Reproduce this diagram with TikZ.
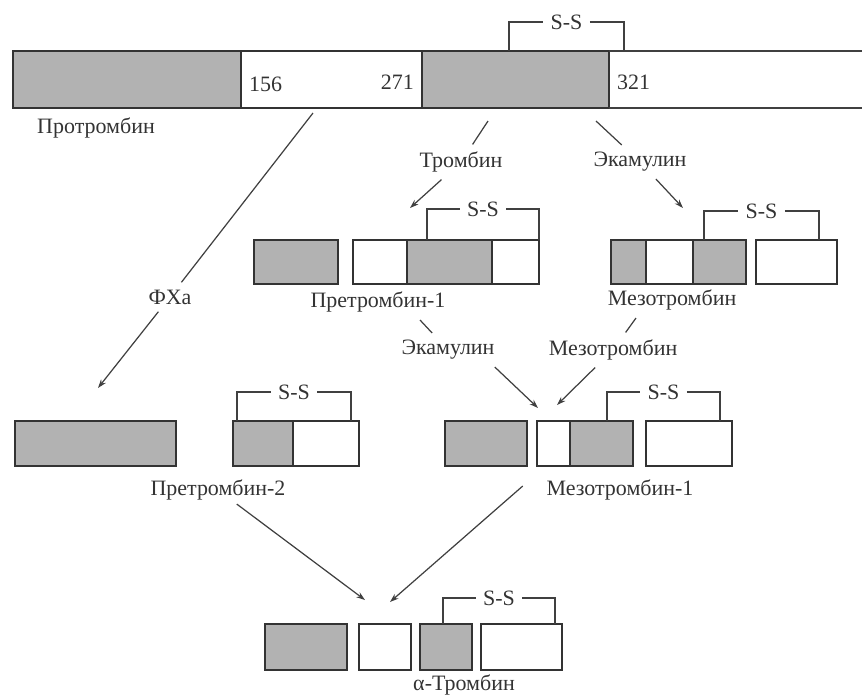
\documentclass[tikz,border=0pt]{standalone}
\usepackage{fontspec}
\setmainfont{Liberation Serif}
\usetikzlibrary{arrows.meta}

\begin{document}
\begin{tikzpicture}[
  x=0.02cm, y=-0.02cm,
  font=\fontsize{12.5}{15}\selectfont,
  >={Stealth[length=5pt,width=3.4pt]},
  every node/.style={text=black!80},
  link/.style={line width=0.7pt, draw=black!75},
  flow/.style={->, line width=0.7pt, draw=black!75},
  shadedseg/.style={line width=0.8pt, draw=black!80, fill=black!30},
  blankseg/.style={line width=0.8pt, draw=black!80, fill=white},
  bond/.style={inner sep=4pt},
  protein/.style={inner sep=2pt},
  enzyme/.style={inner sep=4pt}
]
\useasboundingbox (0,0) rectangle (862,694);

% Prothrombin, open to the right.
\draw[shadedseg] (13,51) rectangle (241,108);
\draw[blankseg] (241,51) rectangle (422,108);
\draw[shadedseg] (422,51) rectangle (609,108);
\draw[link, line width=0.8pt] (862,51) -- (609,51) (609,108) -- (862,108);
\node[anchor=west] (n156) at (243,84) {156};
\node[anchor=east] (n271) at (420,82) {271};
\node[anchor=west] (n321) at (611,82) {321};
\node[protein] (prot) at (96,128) {Протромбин};

% Prethrombin-1 and meizothrombin.
\draw[shadedseg] (254,240) rectangle (338,284);
\draw[blankseg] (353,240) rectangle (407,284);
\draw[shadedseg] (407,240) rectangle (492,284);
\draw[blankseg] (492,240) rectangle (539,284);
\node[protein] (pre1) at (378,302) {Претромбин-1};

\draw[shadedseg] (611,240) rectangle (646,284);
\draw[blankseg] (646,240) rectangle (693,284);
\draw[shadedseg] (693,240) rectangle (746,284);
\draw[blankseg] (756,240) rectangle (837,284);
\node[protein] (meso) at (672,300) {Мезотромбин};

% Prethrombin-2 and meizothrombin-1.
\draw[shadedseg] (15,421) rectangle (176,466);
\draw[shadedseg] (233,421) rectangle (293,466);
\draw[blankseg] (293,421) rectangle (359,466);
\node[protein] (pre2) at (218,490) {Претромбин-2};

\draw[shadedseg] (445,421) rectangle (527,466);
\draw[blankseg] (537,421) rectangle (570,466);
\draw[shadedseg] (570,421) rectangle (633,466);
\draw[blankseg] (646,421) rectangle (732,466);
\node[protein] (meso1) at (620,490) {Мезотромбин-1};

% Alpha-thrombin.
\draw[shadedseg] (265,624) rectangle (347,670);
\draw[blankseg] (359,624) rectangle (411,670);
\draw[shadedseg] (420,624) rectangle (472,670);
\draw[blankseg] (481,624) rectangle (562,670);
\node[protein] (alpha) at (464,685) {α-Тромбин};

% Disulfide bridges over the chains.
\foreach \l/\r/\t/\b/\nm in {509/624/22/51/ssA, 427/539/209/240/ssB,
    704/819/211/240/ssC, 237/351/392/421/ssD, 607/720/392/421/ssE,
    443/555/598/624/ssF} {
  \node[bond] (\nm) at ({(\l+\r)/2},\t) {S-S};
  \draw[link] (\l,\b) |- (\nm.west);
  \draw[link] (\nm.east) -| (\r,\b);
}

% Cleavage sites and arrow ends.
\coordinate (cutFXa) at (313,113);
\coordinate (cutThr) at (488,121);
\coordinate (cutEca) at (596,121);
\coordinate (cutPre1) at (420,320);
\coordinate (cutMeso) at (636,318);
\coordinate (toPre2) at (98,388);
\coordinate (toPre1) at (410,208);
\coordinate (toMeso) at (683,208);
\coordinate (toMeso1a) at (538,408);
\coordinate (toMeso1b) at (557,405);
\coordinate (toAlphaA) at (365,600);
\coordinate (toAlphaB) at (390,602);

\node[enzyme] (fxa) at (170,297) {ФХа};
\node[enzyme] (thr) at (461,162) {Тромбин};
\node[enzyme] (ecaA) at (640,162) {Экамулин};
\node[enzyme] (ecaB) at (448,350) {Экамулин};
\node[enzyme] (mesoB) at (613,350) {Мезотромбин};

\draw[link] (cutFXa) -- (fxa);
\draw[flow] (fxa) -- (toPre2);
\draw[link] (cutThr) -- (thr);
\draw[flow] (thr) -- (toPre1);
\draw[link] (cutEca) -- (ecaA);
\draw[flow] (ecaA) -- (toMeso);
\draw[link] (cutPre1) -- (ecaB);
\draw[flow] (ecaB.-20) -- (toMeso1a);
\draw[link] (cutMeso) -- (mesoB);
\draw[flow] (mesoB) -- (toMeso1b);
\draw[flow] (pre2) -- (toAlphaA);
\draw[flow] ([shift={(-20,-4)}]meso1.west) -- (toAlphaB);

\end{tikzpicture}
\end{document}
